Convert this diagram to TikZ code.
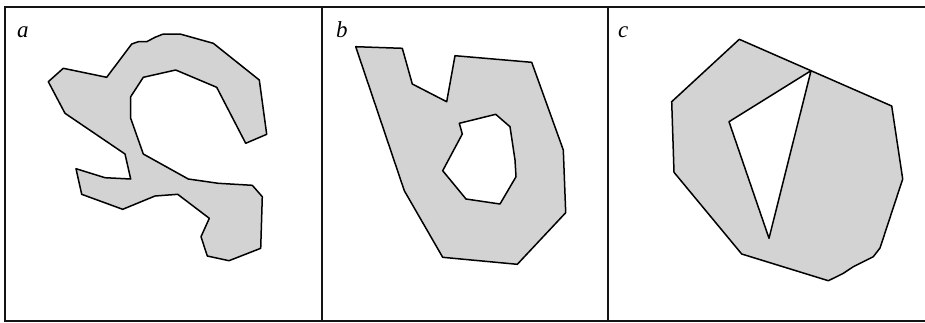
\documentclass[tikz,border=0pt]{standalone}
\usepackage{fontspec}
\setmainfont{Liberation Serif}
\usepackage{tikz}
\usepackage{xcolor}
\definecolor{regionGray}{RGB}{211,211,211}
\definecolor{frameBlack}{RGB}{20,20,20}

\begin{document}
\begin{tikzpicture}[x=1pt,y=-1pt,
  region/.style={draw=black,fill=regionGray,line width=1.5pt,line join=round},
  panelLabel/.style={anchor=base west,inner sep=0pt,font=\fontsize{23}{24}\selectfont\itshape}]
\useasboundingbox (0,0) rectangle (925,322);
% frame and dividers
\draw[frameBlack,line width=2pt] (925,6.5) -- (4.5,6.5) -- (4.5,321) -- (925,321);
\draw[frameBlack,line width=2pt] (321.7,6.5) -- (321.7,321);
\draw[frameBlack,line width=2pt] (607.5,6.5) -- (607.5,321);
% panel a
\draw[region] (48.3,81.7) -- (63.3,68.3) -- (106.7,77.3) -- (131.7,44) -- (138.3,41.7) -- (146.7,41.7)
  -- (155,37.3) -- (163.3,34) -- (180,34) -- (213.3,43.3) -- (259.3,80) -- (266.7,134.3) -- (245.7,143.3)
  -- (216.7,87.3) -- (175.7,70) -- (143.3,77.3) -- (130.7,96.7) -- (130.7,118.3) -- (143.3,154)
  -- (188.3,179) -- (218.3,183.3) -- (252.3,185.3) -- (262.3,196.7) -- (260.7,248.3) -- (229,260.7)
  -- (207.3,256) -- (201,236.7) -- (209.3,218.3) -- (177.7,194.3) -- (155,196) -- (122.7,209.3)
  -- (81.7,194.3) -- (76,168.7) -- (105,177.7) -- (130.7,179) -- (125,154) -- (65,113.3) -- cycle;
\node[panelLabel] (labA) at (17,37) {a};
% panel b
\draw[region,even odd rule] (355.7,46.7) -- (402.3,48.3) -- (412.3,84) -- (446.7,101.7) -- (455,55.7)
  -- (531.7,62.3) -- (563.3,150) -- (565.7,212.7) -- (517.3,264.3) -- (442.7,257.3) -- (404.3,190.7) -- cycle
  (459.3,123.3) -- (495.7,114.3) -- (510,126.7) -- (515,160) -- (516,176.7) -- (500,204) -- (466,199)
  -- (442.7,170.7) -- (462.3,134) -- cycle;
\node[panelLabel] (labB) at (336,37) {b};
% panel c
\draw[region] (739.3,39.3) -- (811,70.7) -- (891.7,106) -- (902.7,179) -- (880,248)
  -- (873.3,256.7) -- (863.3,261.7) -- (853.3,266.7) -- (843.3,273.3) -- (833.3,278.3) -- (828.3,280.7)
  -- (741.7,254) -- (674,172.3) -- (671.7,101.7) -- cycle;
\draw[region,fill=white] (811,70.7) -- (729,121.7) -- (769,238.3) -- cycle;
\node[panelLabel] (labC) at (618,37) {c};
\end{tikzpicture}
\end{document}
